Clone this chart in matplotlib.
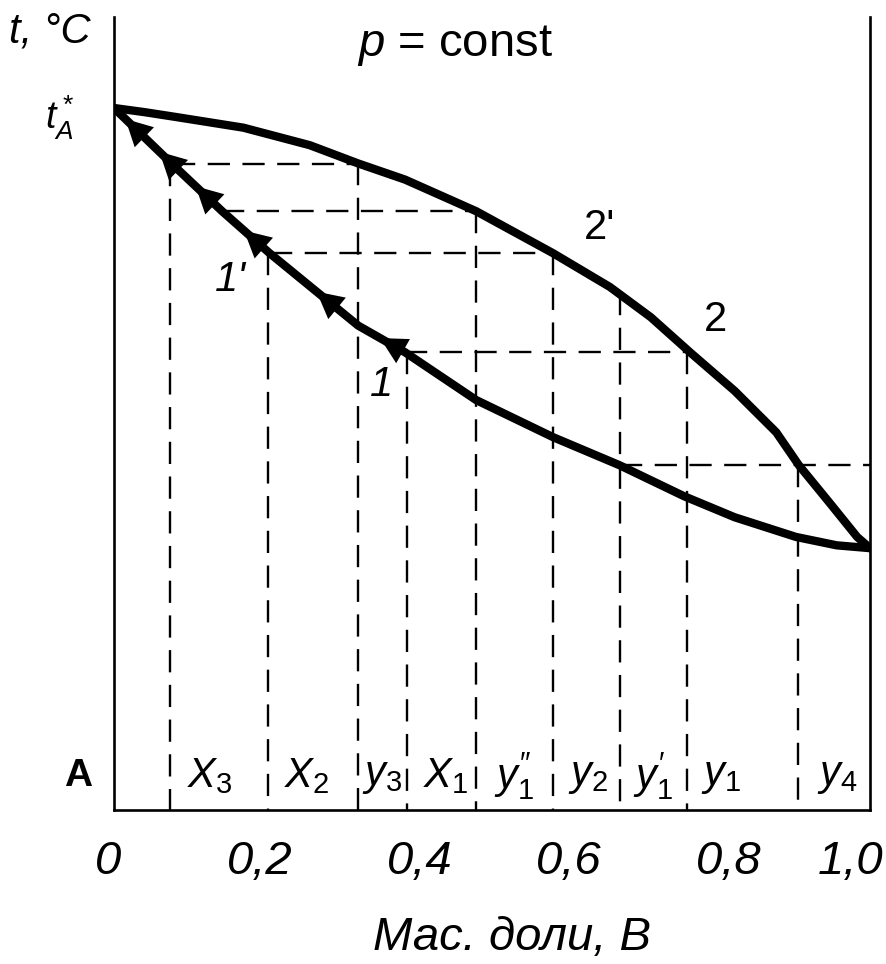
import numpy as np
import matplotlib
matplotlib.use('Agg')
import matplotlib.pyplot as plt

plt.rcParams['font.family'] = ['Liberation Sans', 'DejaVu Sans']
plt.rcParams['mathtext.fontset'] = 'custom'
plt.rcParams['mathtext.rm'] = 'Liberation Sans'
plt.rcParams['mathtext.it'] = 'Liberation Sans:italic'
plt.rcParams['lines.scale_dashes'] = False

# liquid (boiling) curve, mass fraction B vs t (relative units, t_A = 100)
liq_x = [0.0, 0.078, 0.143, 0.206, 0.265, 0.323, 0.385, 0.479, 0.581, 0.669,
         0.754, 0.821, 0.902, 0.956, 1.0]
liq_t = [100.0, 91.9, 85.3, 79.3, 74.1, 69.0, 65.2, 58.4, 53.1, 49.1,
         44.7, 41.7, 38.9, 37.7, 37.3]

# vapour (condensation) curve
vap_x = [0.0, 0.041, 0.083, 0.171, 0.259, 0.323, 0.385, 0.479, 0.581, 0.656,
         0.710, 0.763, 0.821, 0.876, 0.906, 0.947, 0.983, 1.0]
vap_t = [100.0, 99.4, 98.7, 97.2, 94.7, 92.1, 89.8, 85.3, 79.3, 74.5,
         70.2, 65.1, 59.7, 53.8, 49.1, 43.7, 38.9, 37.3]

# tie lines (horizontal dashed): t, left end, right end
tie_t = [92.0, 85.3, 79.3, 65.2, 49.1]
tie_x0 = [0.078, 0.143, 0.206, 0.385, 0.669]
tie_x1 = [0.323, 0.479, 0.581, 0.763, 1.0]

# composition drop lines (vertical dashed): x, starting t
drop_x = [0.074, 0.204, 0.323, 0.388, 0.479, 0.581, 0.669, 0.758, 0.905]
drop_t = [92.0, 79.3, 92.1, 65.2, 85.3, 79.3, 73.6, 65.2, 49.1]
drop_lbl = [r'$X_3$', r'$X_2$', r'$y_3$', r'$X_1$', r"$y^{\prime\prime}_1$",
            r'$y_2$', r"$y^{\prime}_1$", r'$y_1$', r'$y_4$']
lbl_px = [187, 284, 362, 423, 494, 568, 633, 701, 817]

# arrowheads along liquid curve
arr_x = [0.015, 0.060, 0.108, 0.172, 0.268, 0.352]

tick_txt = ['0', '0,2', '0,4', '0,6', '0,8', '1,0']
tick_px = [108, 260, 420, 569, 729, 851]

W, H = 886, 964
fig = plt.figure(figsize=(W / 100, H / 100), dpi=100)
ax = fig.add_axes([114 / W, 1 - 810 / H, (870 - 114) / W, (810 - 17) / H])
ax.set_xlim(0, 1)
ax.set_ylim(0, (810 - 17) / 7.02)


def fx(px):
    return px / W


def fy(py):
    return 1 - py / H


for s in ['left', 'right', 'bottom']:
    ax.spines[s].set_linewidth(1.9)
ax.spines['top'].set_visible(False)
ax.set_xticks([])
ax.set_yticks([])

dash = (16, 9)
for t, x0, x1 in zip(tie_t, tie_x0, tie_x1):
    ax.plot([x0, x1], [t, t], color='k', lw=1.7, dashes=dash)
for x, t in zip(drop_x, drop_t):
    ax.plot([x, x], [t, 0], color='k', lw=1.7, dashes=dash)

ax.plot(liq_x, liq_t, color='k', lw=6, solid_capstyle='round', solid_joinstyle='round')
ax.plot(vap_x, vap_t, color='k', lw=6, solid_capstyle='round', solid_joinstyle='round')

for x in arr_x:
    tip = (x, np.interp(x, liq_x, liq_t))
    tail = (x + 0.03, np.interp(x + 0.03, liq_x, liq_t))
    ax.annotate('', xy=tip, xytext=tail,
                arrowprops=dict(arrowstyle='-|>,head_length=0.95,head_width=0.5',
                                mutation_scale=20, color='k', lw=0,
                                shrinkA=0, shrinkB=0))

fs = 34
for lbl, px in zip(drop_lbl, lbl_px):
    fig.text(fx(px), fy(776), lbl, fontsize=30, ha='left', va='center')
fig.text(fx(78), fy(776), 'A', fontsize=28, fontweight='bold', ha='center', va='center')

for txt, px in zip(tick_txt, tick_px):
    fig.text(fx(px), fy(862), txt, fontsize=fs, style='italic', ha='center', va='center')

fig.text(fx(512), fy(938), 'Мас. доли, B', fontsize=fs, style='italic', ha='center', va='center')
fig.text(fx(50), fy(32), 't, °C', fontsize=30, style='italic', ha='center', va='center')
fig.text(fx(455), fy(45), r'$p$ = const', fontsize=fs, ha='center', va='center')
fig.text(fx(60), fy(118), r'$t_A^*$', fontsize=27, ha='center', va='center')
fig.text(fx(230), fy(280), "1'", fontsize=30, style='italic', ha='center', va='center')
fig.text(fx(381), fy(385), '1', fontsize=30, style='italic', ha='center', va='center')
fig.text(fx(600), fy(228), "2'", fontsize=30, ha='center', va='center')
fig.text(fx(715), fy(320), '2', fontsize=30, ha='center', va='center')

fig.savefig('out.png', dpi=100)
